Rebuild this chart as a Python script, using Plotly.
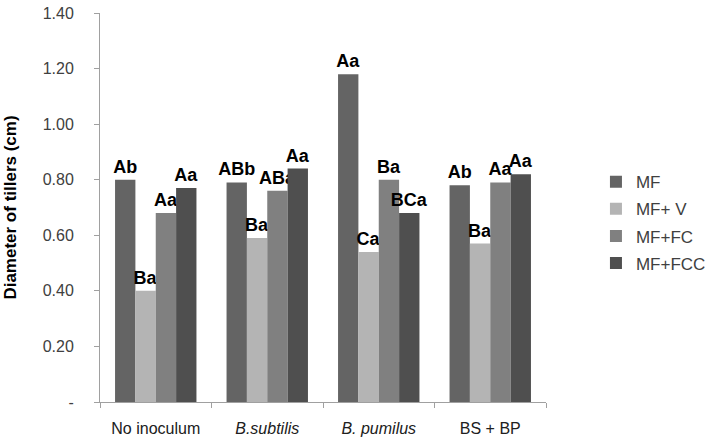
import plotly.graph_objects as go

categories = ["No inoculum", "<i>B.subtilis</i>", "<i>B. pumilus</i>", "BS + BP"]
series_names = ["MF", "MF+ V", "MF+FC", "MF+FCC"]
mf = [0.80, 0.79, 1.18, 0.78]
mf_v = [0.40, 0.59, 0.54, 0.57]
mf_fc = [0.68, 0.76, 0.80, 0.79]
mf_fcc = [0.77, 0.84, 0.68, 0.82]
labels_mf = ["Ab", "ABb", "Aa", "Ab"]
labels_mf_v = ["Ba", "Ba", "Ca", "Ba"]
labels_mf_fc = ["Aa", "ABa", "Ba", "Aa"]
labels_mf_fcc = ["Aa", "Aa", "BCa", "Aa"]
tick_vals = [0, 0.2, 0.4, 0.6, 0.8, 1.0, 1.2, 1.4]
tick_text = ["-", "0.20", "0.40", "0.60", "0.80", "1.00", "1.20", "1.40"]

colors = ["#646464", "#b4b4b4", "#808080", "#4f4f4f"]
values = [mf, mf_v, mf_fc, mf_fcc]
labels = [labels_mf, labels_mf_v, labels_mf_fc, labels_mf_fcc]

fig = go.Figure()
for name, vals, lab, col in zip(series_names, values, labels, colors):
    fig.add_trace(go.Bar(
        x=categories, y=vals, name=name, text=lab,
        textposition="outside", constraintext="none", cliponaxis=False,
        textfont=dict(family="Liberation Sans, Arial", size=18, color="black", weight="bold"),
        marker=dict(color=col, line=dict(width=0)),
        legendgroup=name,
    ))

fig.update_layout(
    width=709, height=442,
    barmode="group", bargap=0.27, bargroupgap=0,
    plot_bgcolor="white", paper_bgcolor="white",
    margin=dict(l=100, r=163, t=13, b=40, autoexpand=False),
    font=dict(family="Liberation Sans, Arial", size=16, color="#404040"),
    legend=dict(x=1.112, y=0.461, xanchor="left", yanchor="middle",
                font=dict(size=17, color="#404040"), tracegroupgap=2,
                itemwidth=30, bgcolor="rgba(0,0,0,0)"),
    xaxis=dict(showline=True, linecolor="#a0a0a0", linewidth=1, automargin=False,
               ticks="outside", tickson="boundaries", ticklen=5, tickcolor="#a0a0a0",
               tickfont=dict(size=16, color="#202020"), ticklabelstandoff=12),
    yaxis=dict(range=[0, 1.4], tickvals=tick_vals, ticktext=tick_text, automargin=False,
               showline=True, linecolor="#a0a0a0", linewidth=1, showgrid=False,
               ticks="outside", ticklen=5, tickcolor="#a0a0a0",
               tickfont=dict(size=16, color="#404040"), ticklabelstandoff=17,
               zeroline=False,
               title=dict(text="<b>Diameter of tillers (cm)</b>",
                          font=dict(size=17, color="black"), standoff=21)),
)

fig.write_html("out.html", config={"displayModeBar": False},
               post_script="document.body.style.margin='0';document.body.style.overflow='hidden';")
